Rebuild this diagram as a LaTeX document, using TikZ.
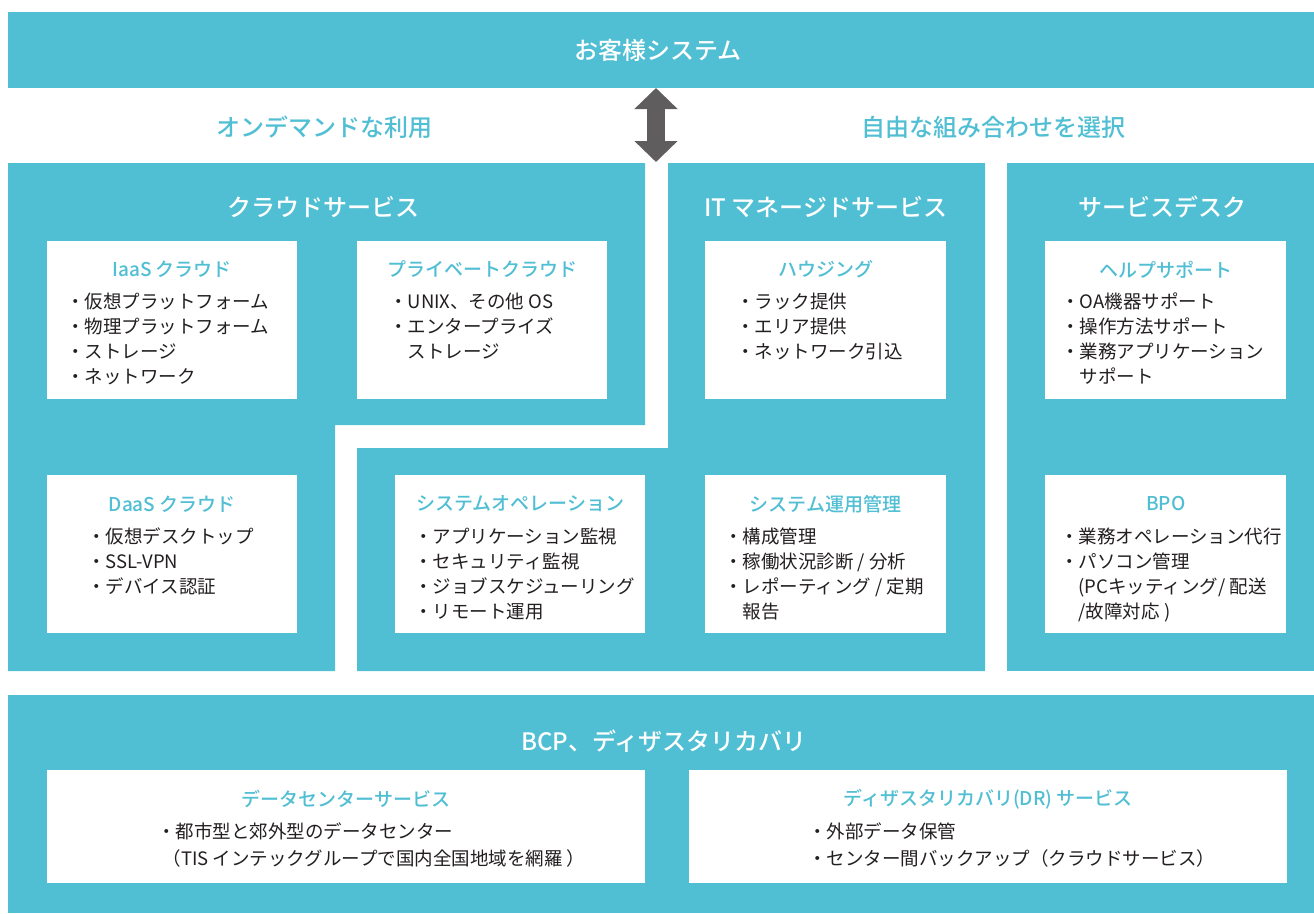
\documentclass[tikz,border=0pt]{standalone}
\usepackage{fontspec}
\setmainfont{Noto Sans CJK JP}
\newfontfamily\jpmed{Noto Sans CJK JP Medium}
\usetikzlibrary{arrows.meta}

\definecolor{tisblue}{RGB}{80,190,211}
\definecolor{tisgray}{RGB}{95,93,94}
\definecolor{tisink}{RGB}{35,31,32}

\tikzset{
  band/.style={fill=tisblue,draw=none},
  panel/.style={fill=white,draw=none,inner sep=0pt,anchor=north west},
  headtxt/.style={text=white,font=\jpmed\fontsize{24}{28}\selectfont},
  leadtxt/.style={text=tisblue,font=\jpmed\fontsize{24}{28}\selectfont},
  boxtitle/.style={text=tisblue,font=\jpmed\fontsize{19}{22}\selectfont},
  itemtxt/.style={text=tisink,align=left,anchor=north west,inner sep=0pt,
    font=\fontsize{18.5}{25}\selectfont},
  bcpitem/.style={itemtxt,font=\fontsize{18.5}{27}\selectfont},
}

\begin{document}
\begin{tikzpicture}[x=1pt,y=-1pt]
  \useasboundingbox (0,0) rectangle (1314,913);

  % お客様システム
  \node[band,minimum width=1306pt,minimum height=76pt,anchor=north west,inner sep=0pt] (kyaku) at (8,12) {};
  \node[headtxt] (kyakutxt) at (658,50) {お客様システム};

  % 見出し
  \node[leadtxt] (ondemand) at (324,127) {オンデマンドな利用};
  \node[leadtxt] (jiyu) at (993,127) {自由な組み合わせを選択};

  % 双方向矢印
  \coordinate (arrtop) at (656,88);
  \coordinate (arrbot) at (656,162);
  \draw[tisgray,line width=18pt,
    {Triangle[width=42pt,length=21pt]}-{Triangle[width=42pt,length=21pt]}] (arrtop) -- (arrbot);

  % 領域
  \fill[tisblue] (8,163) -- (645,163) -- (645,425) -- (335,425) -- (335,671) -- (8,671) -- cycle;
  \fill[tisblue] (668,163) -- (985,163) -- (985,671) -- (357,671) -- (357,448) -- (668,448) -- cycle;
  \fill[tisblue] (1007,163) rectangle (1314,671);
  \fill[tisblue] (8,695) rectangle (1314,913);

  \node[headtxt] (cloud) at (323,207) {クラウドサービス};
  \node[headtxt] (itms) at (826,207) {IT マネージドサービス};
  \node[headtxt] (desk) at (1162,207) {サービスデスク};
  \node[headtxt] (bcp) at (664,741) {BCP、ディザスタリカバリ};

  % 白いボックス
  \node[panel,minimum width=250pt,minimum height=158pt] (iaas) at (47,241) {};
  \node[panel,minimum width=250pt,minimum height=158pt] (priv) at (357,241) {};
  \node[panel,minimum width=250pt,minimum height=158pt] (daas) at (47,475) {};
  \node[panel,minimum width=250pt,minimum height=158pt] (sysop) at (395,475) {};
  \node[panel,minimum width=241pt,minimum height=158pt] (housing) at (705,241) {};
  \node[panel,minimum width=241pt,minimum height=158pt] (sysmgmt) at (705,475) {};
  \node[panel,minimum width=241pt,minimum height=158pt] (help) at (1045,241) {};
  \node[panel,minimum width=241pt,minimum height=158pt] (bpo) at (1045,475) {};
  \node[panel,minimum width=598pt,minimum height=113pt] (dc) at (47,770) {};
  \node[panel,minimum width=598pt,minimum height=113pt] (dr) at (689,770) {};

  % タイトル
  \node[boxtitle] (iaast) at ([yshift=-28pt]iaas.north) {IaaS クラウド};
  \node[boxtitle] (privt) at ([yshift=-28pt]priv.north) {プライベートクラウド};
  \node[boxtitle] (daast) at ([yshift=-29pt]daas.north) {DaaS クラウド};
  \node[boxtitle] (sysopt) at ([yshift=-29pt]sysop.north) {システムオペレーション};
  \node[boxtitle] (housingt) at ([yshift=-28pt]housing.north) {ハウジング};
  \node[boxtitle] (sysmgmtt) at ([yshift=-29pt]sysmgmt.north) {システム運用管理};
  \node[boxtitle] (helpt) at ([yshift=-29pt]help.north) {ヘルプサポート};
  \node[boxtitle] (bpot) at ([yshift=-29pt]bpo.north) {BPO};
  \node[boxtitle] (dct) at ([yshift=-29pt]dc.north) {データセンターサービス};
  \node[boxtitle] (drt) at ([yshift=-29pt]dr.north) {ディザスタリカバリ(DR) サービス};

  % 項目
  \node[itemtxt] (iaasi) at (66,293) {・仮想プラットフォーム\\・物理プラットフォーム\\・ストレージ\\・ネットワーク};
  \node[itemtxt] (privi) at (389,293) {・UNIX、その他 OS\\・エンタープライズ\\\hspace*{1em}ストレージ};
  \node[itemtxt] (daasi) at (87,528) {・仮想デスクトップ\\・SSL-VPN\\・デバイス認証};
  \node[itemtxt] (sysopi) at (414,528) {・アプリケーション監視\\・セキュリティ監視\\・ジョブスケジューリング\\・リモート運用};
  \node[itemtxt] (housingi) at (736,293) {・ラック提供\\・エリア提供\\・ネットワーク引込};
  \node[itemtxt] (sysmgmti) at (724,528) {・構成管理\\・稼働状況診断 / 分析\\・レポーティング / 定期\\\hspace*{1em}報告};
  \node[itemtxt] (helpi) at (1061,293) {・OA機器サポート\\・操作方法サポート\\・業務アプリケーション\\\hspace*{1em}サポート};
  \node[itemtxt] (bpoi) at (1060,528) {・業務オペレーション代行\\・パソコン管理\\\hspace*{1em}(PCキッティング/ 配送\\\hspace*{1em}/故障対応 )};
  \node[bcpitem] (dci) at (157,823) {・都市型と郊外型のデータセンター\\\hspace*{0.3em}（TIS インテックグループで国内全国地域を網羅 ）};
  \node[bcpitem] (dri) at (808,823) {・外部データ保管\\・センター間バックアップ（クラウドサービス）};
\end{tikzpicture}
\end{document}
